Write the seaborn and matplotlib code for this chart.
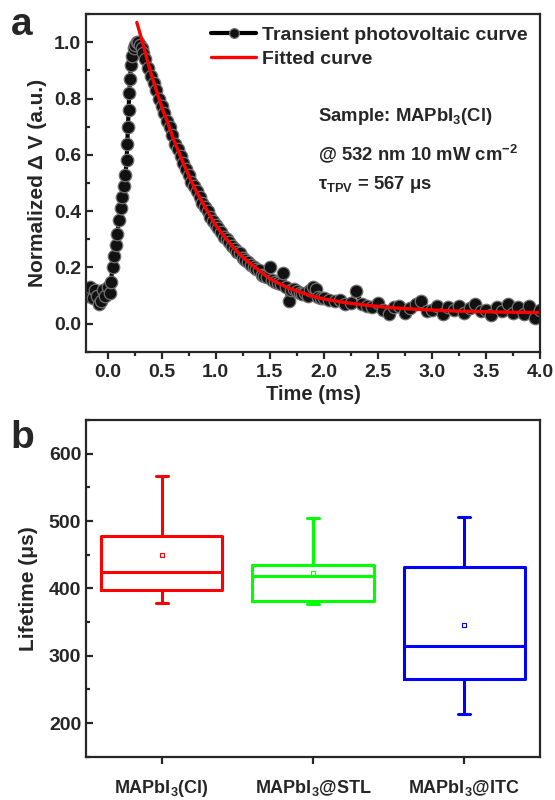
import matplotlib
matplotlib.use("Agg")
import matplotlib.pyplot as plt
import seaborn as sns
import pandas as pd
from matplotlib.ticker import MultipleLocator

# panel a: transient photovoltaic trace (time in ms, normalized dV)
tpv_time = [-0.20, -0.18, -0.16, -0.14, -0.12, -0.10, -0.08, -0.06, -0.04, -0.02, 0.00, 0.02,
            0.03, 0.045, 0.06, 0.075, 0.09, 0.105, 0.12, 0.135, 0.15, 0.165, 0.175, 0.182,
            0.188, 0.194, 0.20, 0.207, 0.215, 0.225, 0.24, 0.255, 0.27, 0.285, 0.30, 0.315,
            0.33, 0.35, 0.375, 0.40, 0.425, 0.45, 0.475, 0.50, 0.525, 0.55, 0.575, 0.60,
            0.625, 0.65, 0.675, 0.70, 0.725, 0.75, 0.775, 0.80, 0.825, 0.85, 0.875, 0.90,
            0.925, 0.95, 0.975, 1.00, 1.025, 1.05, 1.075, 1.10, 1.125, 1.15, 1.175, 1.20,
            1.225, 1.25, 1.275, 1.30, 1.325, 1.35, 1.375, 1.40, 1.425, 1.45, 1.475, 1.50,
            1.525, 1.55, 1.575, 1.60, 1.625, 1.65, 1.675, 1.70, 1.725, 1.75, 1.775, 1.80,
            1.825, 1.85, 1.875, 1.90, 1.925, 1.95, 1.975, 2.00, 2.05, 2.10, 2.15, 2.20,
            2.25, 2.30, 2.35, 2.40, 2.45, 2.50, 2.55, 2.60, 2.65, 2.70, 2.75, 2.80,
            2.85, 2.90, 2.95, 3.00, 3.05, 3.10, 3.15, 3.20, 3.25, 3.30, 3.35, 3.40,
            3.45, 3.50, 3.55, 3.60, 3.65, 3.70, 3.75, 3.80, 3.85, 3.90, 3.95, 4.00]
tpv_dv = [0.12, 0.10, 0.13, 0.09, 0.12, 0.10, 0.07, 0.08, 0.12, 0.10, 0.13, 0.11,
          0.15, 0.20, 0.24, 0.28, 0.32, 0.37, 0.41, 0.45, 0.49, 0.53, 0.58, 0.64,
          0.70, 0.76, 0.82, 0.87, 0.92, 0.95, 0.98, 0.99, 1.00, 1.00, 0.99, 0.98,
          0.96, 0.94, 0.91, 0.88, 0.855, 0.83, 0.80, 0.775, 0.75, 0.72, 0.70, 0.67,
          0.64, 0.62, 0.595, 0.57, 0.55, 0.53, 0.505, 0.49, 0.47, 0.45, 0.43, 0.415,
          0.40, 0.38, 0.365, 0.35, 0.34, 0.325, 0.31, 0.30, 0.29, 0.275, 0.265, 0.255,
          0.25, 0.235, 0.225, 0.22, 0.21, 0.20, 0.195, 0.19, 0.175, 0.17, 0.165, 0.20,
          0.155, 0.15, 0.145, 0.14, 0.18, 0.13, 0.08, 0.12, 0.125, 0.115, 0.11, 0.105,
          0.11, 0.10, 0.12, 0.13, 0.125, 0.095, 0.09, 0.09, 0.085, 0.08, 0.085, 0.07,
          0.075, 0.115, 0.07, 0.065, 0.06, 0.075, 0.05, 0.035, 0.06, 0.065, 0.04, 0.055,
          0.07, 0.08, 0.045, 0.05, 0.065, 0.035, 0.06, 0.05, 0.065, 0.04, 0.055, 0.07,
          0.045, 0.05, 0.03, 0.06, 0.045, 0.07, 0.04, 0.06, 0.035, 0.065, 0.02, 0.05]

# single-exponential fit
fit_time = [0.27, 0.30, 0.35, 0.40, 0.45, 0.50, 0.55, 0.60, 0.70, 0.80, 0.90, 1.00,
            1.10, 1.20, 1.30, 1.40, 1.50, 1.60, 1.70, 1.80, 1.90, 2.00, 2.20, 2.40,
            2.60, 2.80, 3.00, 3.25, 3.50, 3.75, 4.00]
fit_dv = [1.07, 1.03, 0.96, 0.89, 0.83, 0.77, 0.72, 0.665, 0.57, 0.485, 0.415, 0.35,
          0.30, 0.255, 0.22, 0.19, 0.16, 0.14, 0.123, 0.11, 0.098, 0.088, 0.075, 0.066,
          0.058, 0.053, 0.049, 0.045, 0.043, 0.041, 0.04]

# panel b: TPV lifetimes (us)
samples = ["MAPbI$_3$(Cl)", "MAPbI$_3$@STL", "MAPbI$_3$@ITC"]
life_cl = [378, 398, 425, 478, 567]
life_stl = [377, 382, 419, 434, 505]
life_itc = [213, 266, 314, 432, 506]
box_colors = ["#ff0000", "#00ff00", "#0000ff"]

sns.set_style("ticks")
plt.rcParams["font.family"] = ["Liberation Sans", "DejaVu Sans"]
plt.rcParams["font.weight"] = "bold"
plt.rcParams["axes.labelweight"] = "bold"
plt.rcParams["mathtext.fontset"] = "custom"
plt.rcParams["mathtext.rm"] = "Liberation Sans:bold"
plt.rcParams["mathtext.it"] = "Liberation Sans:bold"
plt.rcParams["mathtext.bf"] = "Liberation Sans:bold"
plt.rcParams["mathtext.sf"] = "Liberation Sans:bold"
plt.rcParams["axes.linewidth"] = 1.6

fig = plt.figure(figsize=(5.55, 8), dpi=100)
ax1 = fig.add_axes([0.155, 0.56, 0.818, 0.4225])
ax2 = fig.add_axes([0.155, 0.054, 0.818, 0.421])

# ---- a ----
sns.lineplot(x=tpv_time, y=tpv_dv, ax=ax1, color="black", linewidth=3, marker="o",
             markersize=9, markerfacecolor="#111111", markeredgecolor="#707070",
             markeredgewidth=0.9, label="Transient photovoltaic curve")
sns.lineplot(x=fit_time, y=fit_dv, ax=ax1, color="red", linewidth=2.4, label="Fitted curve")
ax1.set_xlim(-0.2, 4.0)
ax1.set_ylim(-0.1, 1.1)
ax1.xaxis.set_major_locator(MultipleLocator(0.5))
ax1.xaxis.set_minor_locator(MultipleLocator(0.25))
ax1.yaxis.set_major_locator(MultipleLocator(0.2))
ax1.yaxis.set_minor_locator(MultipleLocator(0.1))
ax1.tick_params(axis="x", which="both", direction="out", width=1.6, labelsize=14)
ax1.tick_params(axis="x", which="major", length=5)
ax1.tick_params(axis="x", which="minor", length=3)
ax1.tick_params(axis="y", which="both", direction="in", width=1.6, labelsize=14)
ax1.tick_params(axis="y", which="major", length=5)
ax1.tick_params(axis="y", which="minor", length=3)
ax1.set_xlabel("Time (ms)", fontsize=14.5, labelpad=3)
ax1.set_ylabel("Normalized \u0394 V (a.u.)", fontsize=15, labelpad=5)
leg = ax1.legend(loc="upper right", frameon=False, fontsize=14, handlelength=2.3,
                 handletextpad=0.3, labelspacing=0.3, borderaxespad=0.25)
for h in leg.legend_handles:
    h.set_markersize(7)
ax1.text(1.95, 0.735, "Sample: MAPbI$_3$(Cl)", fontsize=13.3, va="center")
ax1.text(1.95, 0.605, "@ 532 nm 10 mW cm$^{-2}$", fontsize=13.3, va="center")
ax1.text(1.95, 0.495, "\u03c4$_{TPV}$ = 567 \u03bcs", fontsize=13.3, va="center")

# ---- b ----
df = pd.DataFrame({
    "sample": [samples[0]] * len(life_cl) + [samples[1]] * len(life_stl) + [samples[2]] * len(life_itc),
    "lifetime": life_cl + life_stl + life_itc,
})
sns.boxplot(data=df, x="sample", y="lifetime", hue="sample", palette=box_colors,
            fill=False, width=0.8, linewidth=2.2, whis=(0, 100), showmeans=True,
            meanprops=dict(marker="s", markersize=3.5, markerfacecolor="none",
                           markeredgewidth=0.8),
            legend=False, ax=ax2)
# shorter caps and coloured mean markers
for ln in ax2.lines:
    xd, yd = ln.get_xdata(), ln.get_ydata()
    if len(xd) == 2 and yd[0] == yd[1] and abs(xd[1] - xd[0]) < 0.6:
        c = (xd[0] + xd[1]) / 2
        ln.set_xdata([c - 0.04, c + 0.04])
    if ln.get_marker() == "s":
        i = int(round(xd[0]))
        ln.set_markeredgecolor(box_colors[i])
ax2.set_xlim(-0.5, 2.5)
ax2.set_ylim(150, 650)
ax2.yaxis.set_major_locator(MultipleLocator(100))
ax2.yaxis.set_minor_locator(MultipleLocator(50))
ax2.tick_params(axis="x", which="major", direction="out", length=5, width=1.6,
                labelsize=13, pad=10)
ax2.tick_params(axis="y", which="both", direction="in", width=1.6, labelsize=14)
ax2.tick_params(axis="y", which="major", length=5)
ax2.tick_params(axis="y", which="minor", length=3)
ax2.set_xlabel("")
ax2.set_ylabel("Lifetime (\u03bcs)", fontsize=15, labelpad=8)

fig.text(0.02, 0.956, "a", fontsize=28, fontweight="bold")
fig.text(0.018, 0.44, "b", fontsize=28, fontweight="bold")

fig.savefig("out.png", dpi=100)
